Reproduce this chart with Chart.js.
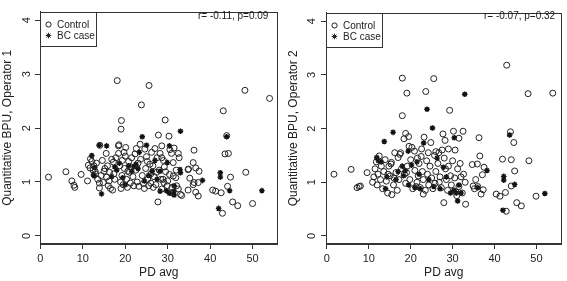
<!DOCTYPE html>
<html lang="en">
<head>
    <meta charset="UTF-8">
    <title>BPU vs PD avg</title>
    <script src="https://cdn.jsdelivr.net/npm/chart.js@4.4.1/dist/chart.umd.min.js"></script>
    <style>
        body { margin: 0; background: #fff; }
        .wrap { position: relative; width: 567px; height: 281px; }
        canvas { position: absolute; top: 0; }
    </style>
</head>
<body>
<div class="wrap">
    <canvas id="op1" width="283" height="281" style="left:0"></canvas>
    <canvas id="op2" width="284" height="281" style="left:283px"></canvas>
</div>
<script>
// tick positions
const xTicks = [0, 10, 20, 30, 40, 50];
const yTicks = [0, 1, 2, 3, 4];

// Operator 1 : [PD avg, BPU]
const ctrl1 = [
    [1.9,1.09],[6.0,1.19],[7.4,1.02],[7.9,0.94],[8.1,0.90],[9.6,1.14],
    [11.1,1.02],[11.3,1.31],[11.7,1.26],[11.8,1.43],[12.1,1.38],[12.4,1.22],[12.9,1.20],[13.2,1.35],
    [13.5,1.05],[13.9,0.89],[13.9,0.98],[12.6,1.30],[13.0,1.15],
    [14.0,1.68],[14.3,1.12],[14.8,0.99],[15.2,1.25],[15.5,1.53],[15.6,1.09],[15.8,1.30],[16.0,0.93],
    [16.3,1.18],[16.5,0.88],[16.8,1.42],[17.0,0.85],[17.2,1.37],[17.5,1.05],[17.8,1.45],[17.3,1.15],
    [16.2,1.02],[15.0,1.20],[14.6,1.40],
    [18.1,2.88],[18.4,1.53],[18.4,1.67],[18.5,1.69],[18.7,1.30],[19.0,1.98],[19.1,2.14],[19.2,1.12],
    [19.5,0.95],[19.7,1.55],[19.8,1.25],[20.1,1.64],[20.3,1.05],[20.5,0.90],[20.8,1.38],[21.0,1.18],
    [21.2,0.98],[21.5,1.45],[21.8,1.10],[22.0,0.93],[18.9,1.00],[19.3,1.40],[20.0,1.48],[21.3,1.28],
    [19.0,0.88],[20.6,1.20],
    [22.3,1.52],[22.5,1.22],[22.8,1.00],[23.0,1.35],[23.2,0.92],[23.5,1.70],[23.8,2.43],[24.0,1.12],
    [24.3,0.97],[24.6,1.61],[24.8,1.25],[25.0,1.47],[25.3,1.05],[25.6,2.79],[25.5,0.93],[25.8,1.33],
    [26.0,1.15],[26.2,1.55],[22.6,1.62],[23.6,1.42],[24.5,0.88],[25.2,1.38],[26.0,0.98],
    [26.5,1.30],[26.8,1.10],[27.2,0.95],[27.5,1.45],[27.7,0.63],[27.8,1.87],[28.0,1.22],[28.2,1.53],
    [28.4,1.05],[28.6,1.67],[28.6,1.45],[28.9,1.05],[28.6,0.87],[29.0,1.40],[29.1,0.99],[29.4,2.15],
    [29.5,1.19],[29.9,0.93],[27.0,1.62],[26.6,0.90],[27.4,1.18],[29.2,1.28],
    [30.3,1.85],[30.4,1.14],[30.5,1.60],[30.9,1.53],[31.0,0.90],[31.0,0.80],[31.3,1.36],[31.3,1.11],
    [31.5,1.63],[31.9,1.08],[32.1,0.93],[32.5,1.53],[32.5,0.87],[32.7,1.45],[33.0,0.77],[33.3,0.75],
    [30.0,1.02],[32.0,1.22],
    [34.8,1.23],[34.8,0.85],[34.9,1.24],[35.2,1.07],[36.0,1.36],[36.0,0.95],[36.2,1.59],[36.2,0.99],
    [36.6,1.26],[36.6,0.81],[37.2,0.99],[37.2,0.74],[37.4,1.20],
    [40.6,0.85],[41.3,0.83],[42.6,0.80],[42.9,0.42],[43.1,2.32],[43.9,1.86],[43.5,1.52],[44.3,1.53],
    [44.1,0.92],[44.8,1.09],[45.3,0.63],[46.5,0.56],[48.2,2.70],[48.4,1.18],[50.0,0.60],[54.0,2.55]
];
const bc1 = [
    [12.1,1.49],[12.5,1.13],[12.7,1.11],[12.8,1.27],[13.9,1.68],[14.4,0.78],[15.6,1.67],[16.8,1.10],
    [17.5,1.28],[18.0,1.22],[18.6,1.35],[19.4,1.08],[20.0,0.95],[20.8,1.30],[21.5,1.20],[22.0,1.28],
    [22.5,1.33],[23.0,1.25],[23.3,1.55],[24.0,1.84],[24.5,1.02],[25.0,1.68],[25.5,1.12],[26.3,1.20],
    [27.0,1.40],[27.5,1.05],[28.2,1.20],[28.2,0.83],[29.7,0.84],[29.9,1.36],[30.4,1.67],[30.4,0.79],
    [31.5,0.93],[31.5,0.83],[31.5,0.76],[32.9,1.23],[33.0,1.17],[33.0,1.94],[38.2,1.03],[42.0,0.51],
    [42.4,1.17],[42.4,1.09],[43.9,1.84],[44.6,0.84],[52.2,0.84]
];

// Operator 2 : [PD avg, BPU]
const ctrl2 = [
    [1.7,1.15],[5.8,1.24],[7.2,0.90],[7.7,0.92],[8.0,0.93],[9.6,1.18],[10.9,1.00],
    [11.2,1.10],[11.5,1.25],[11.8,1.38],[12.0,0.95],[12.5,1.49],[12.8,1.05],[13.0,1.30],[13.3,0.88],
    [13.6,1.20],[13.9,1.42],[12.2,1.15],
    [14.2,1.02],[14.5,0.80],[14.8,1.30],[15.1,1.12],[15.3,1.34],[15.5,0.77],[15.4,1.37],[15.9,0.95],
    [16.2,1.55],[16.5,1.18],[16.8,0.85],[17.0,1.46],[17.2,1.05],[17.4,1.52],[17.6,1.55],[17.8,1.25],
    [16.0,1.08],[14.6,1.15],
    [18.0,2.94],[18.0,2.24],[18.4,1.81],[18.8,1.91],[19.1,2.66],[19.5,1.85],[19.6,1.67],[18.5,1.15],
    [18.8,0.98],[19.2,1.30],[19.8,1.05],[20.3,1.65],[20.5,0.88],[20.9,1.58],[21.0,1.22],[21.3,0.92],
    [21.6,1.45],[21.8,1.12],[22.0,1.35],[20.0,1.42],[19.0,1.18],[21.5,1.00],
    [22.3,0.90],[22.5,1.48],[22.8,1.20],[23.0,1.05],[23.2,1.84],[23.6,2.69],[23.5,0.85],[23.8,1.40],
    [24.0,1.15],[24.3,0.95],[24.8,1.74],[24.6,1.30],[25.0,1.08],[25.5,2.93],[25.3,0.88],[25.7,1.50],
    [26.0,1.57],[26.0,1.20],[22.6,1.62],[24.2,1.55],[25.8,0.98],[23.0,0.78],
    [26.5,1.35],[26.8,1.00],[27.0,1.10],[27.3,0.90],[27.7,1.90],[27.9,0.62],[28.0,1.45],[28.2,1.78],
    [28.3,1.25],[28.5,1.05],[28.8,0.85],[29.0,1.30],[29.3,2.34],[29.5,1.12],[29.7,0.95],[30.0,1.40],
    [27.5,1.60],[26.7,1.55],[29.0,1.62],
    [30.2,1.95],[30.5,1.08],[30.8,0.82],[31.2,1.25],[31.5,1.82],[31.5,0.92],[31.8,1.35],[32.0,1.10],
    [32.3,0.80],[32.5,1.95],[32.6,1.15],[33.1,0.59],[33.0,1.00],[30.6,1.60],[31.0,0.75],
    [34.7,1.33],[34.9,0.93],[35.2,0.88],[35.9,1.34],[36.3,1.83],[36.5,1.49],[36.8,0.78],[37.1,1.14],
    [37.3,0.86],[37.5,1.28],[35.5,1.05],[36.0,0.92],
    [40.4,0.78],[41.3,0.74],[41.9,1.43],[42.6,0.81],[42.8,0.46],[42.9,3.18],[43.8,1.94],[44.0,1.42],
    [44.0,0.93],[44.6,1.74],[44.8,1.21],[45.3,0.62],[46.4,0.56],[48.0,2.65],[48.2,1.40],[49.9,0.74],
    [53.9,2.66]
];
const bc2 = [
    [11.9,1.46],[12.3,1.40],[13.0,1.38],[13.7,1.76],[14.0,0.88],[14.3,1.10],[15.8,1.93],[16.5,1.05],
    [17.0,1.20],[18.0,1.30],[18.3,1.12],[18.7,1.22],[19.4,1.58],[19.5,0.95],[20.2,1.32],[21.0,0.90],
    [21.5,1.38],[22.0,1.15],[22.3,0.88],[23.1,1.73],[23.9,2.36],[24.3,1.05],[25.2,2.01],[25.5,0.92],
    [26.3,1.45],[27.0,0.88],[27.8,1.28],[28.5,1.10],[29.5,0.80],[30.4,1.83],[30.3,0.85],[30.9,0.80],
    [31.2,0.65],[31.5,0.95],[32.0,0.80],[32.9,2.64],[38.2,1.22],[36.0,0.90],[42.0,0.48],[42.2,1.11],
    [42.2,1.04],[43.6,1.88],[44.8,0.96],[52.0,0.79]
];

const FONT = '"Liberation Sans", Arial, sans-serif';
const INK = '#222';

// box, legend and r/p note, drawn after the points
const framePlugin = {
    id: 'frame',
    afterDatasetsDraw(chart, args, opts) {
        const {ctx, chartArea: a} = chart;
        ctx.save();
        ctx.strokeStyle = '#333';
        ctx.lineWidth = 1;
        ctx.strokeRect(Math.round(a.left) + 0.5, Math.round(a.top) + 0.5,
            Math.round(a.right - a.left) - 1, Math.round(a.bottom - a.top) - 1);

        // legend
        const lx = Math.round(a.left) + 0.5, ly = Math.round(a.top) + 0.5;
        ctx.fillStyle = '#fff';
        ctx.fillRect(lx, ly, 56, 34);
        ctx.strokeRect(lx, ly, 56, 34);
        ctx.strokeStyle = INK;
        Chart.helpers.drawPoint(ctx, {pointStyle: 'circle', radius: 2.6, borderWidth: 1}, lx + 8, ly + 12);
        ctx.fillStyle = INK;
        Chart.helpers.drawPoint(ctx, {pointStyle: 'star', radius: 2.8, borderWidth: 1.4}, lx + 8, ly + 23);
        ctx.font = '10px ' + FONT;
        ctx.fillStyle = '#222';
        ctx.textBaseline = 'middle';
        ctx.textAlign = 'left';
        ctx.fillText('Control', lx + 16.5, ly + 12.5);
        ctx.fillText('BC case', lx + 16.5, ly + 23.5);

        ctx.fillText(opts.note, a.left + 158, 16.5);
        ctx.restore();
    }
};

function makeChart(id, ctrl, bc, cfg) {
    const axisGrid = {drawOnChartArea: false, drawTicks: true, tickLength: 5, color: '#333', lineWidth: 1};
    return new Chart(document.getElementById(id), {
        type: 'scatter',
        data: {
            datasets: [{
                label: 'Control',
                data: ctrl.map(p => ({x: p[0], y: p[1]})),
                pointStyle: 'circle',
                pointRadius: 3,
                borderWidth: 1,
                borderColor: INK,
                backgroundColor: 'rgba(0,0,0,0)'
            }, {
                label: 'BC case',
                data: bc.map(p => ({x: p[0], y: p[1]})),
                pointStyle: 'star',
                pointRadius: 2.8,
                borderWidth: 1.4,
                borderColor: '#111',
                backgroundColor: '#111'
            }]
        },
        options: {
            responsive: false,
            animation: false,
            events: [],
            layout: {padding: {top: 1, right: cfg.padRight, left: 0, bottom: 0}},
            plugins: {
                legend: {display: false},
                tooltip: {enabled: false},
                frame: {note: cfg.note}
            },
            scales: {
                x: {
                    type: 'linear',
                    min: cfg.xMin, max: cfg.xMax,
                    afterBuildTicks: s => { s.ticks = xTicks.map(v => ({value: v})); },
                    afterFit: s => { s.height = 37; },
                    grid: axisGrid,
                    border: {display: true, color: '#333'},
                    ticks: {font: {family: FONT, size: 11}, color: '#222', padding: 3, maxRotation: 0},
                    title: {display: true, text: 'PD avg', color: '#222',
                        font: {family: FONT, size: 12}, padding: {top: 0, bottom: 1}}
                },
                y: {
                    type: 'linear',
                    min: -0.15, max: 4.16,
                    afterBuildTicks: s => { s.ticks = yTicks.map(v => ({value: v})); },
                    afterFit: s => { s.width = cfg.yWidth; },
                    grid: axisGrid,
                    border: {display: true, color: '#333'},
                    ticks: {font: {family: FONT, size: 11}, color: '#222', padding: cfg.yPad,
                        minRotation: 90, maxRotation: 90, crossAlign: 'center'},
                    title: {display: true, text: cfg.yTitle, color: '#222',
                        font: {family: FONT, size: 12}, padding: {top: cfg.titlePad, bottom: 0}}
                }
            }
        },
        plugins: [framePlugin]
    });
}

makeChart('op1', ctrl1, bc1, {
    note: 'r= -0.11, p=0.09', yTitle: 'Quantitative BPU, Operator 1',
    xMin: -0.1, xMax: 55.9, yWidth: 40, padRight: 5, yPad: 5, titlePad: 0
});
makeChart('op2', ctrl2, bc2, {
    note: 'r= -0.07, p=0.32', yTitle: 'Quantitative BPU, Operator 2',
    xMin: -0.2, xMax: 56.0, yWidth: 43, padRight: 1, yPad: 6, titlePad: 3
});
</script>
</body>
</html>
